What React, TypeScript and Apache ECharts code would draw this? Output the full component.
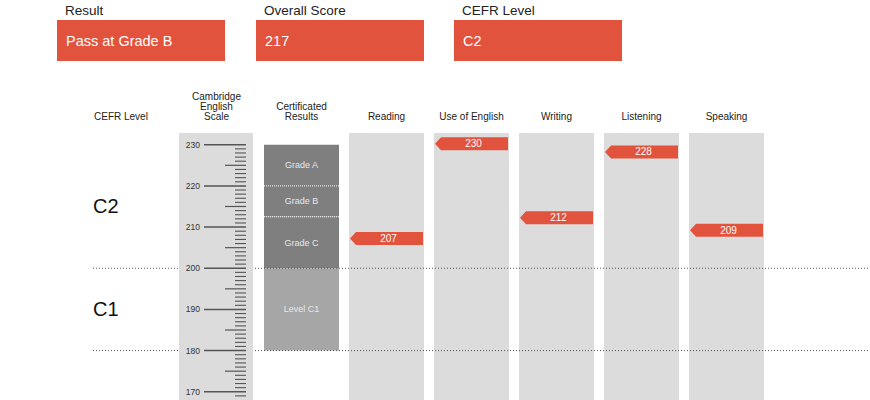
import React, { useEffect, useRef } from "react";
import * as echarts from "echarts";

const columns = ["Cambridge\nEnglish\nScale", "Certificated\nResults", "Reading", "Use of English", "Writing", "Listening", "Speaking"];
const skillColumnIndex = [2, 3, 4, 5, 6];
const skillScores = [207, 230, 212, 228, 209];
const gradeNames = ["Grade A", "Grade B", "Grade C", "Level C1"];
const gradeTops = [230, 220, 212.5, 200];
const gradeBottoms = [220, 212.5, 200, 180];
const gradeShades = ["dark", "dark", "dark", "light"];
const cefrLevels = ["C2", "C1"];
const cefrMidpoints = [215, 190];
const cefrBoundaries = [200, 180];
const scaleLabels = [230, 220, 210, 200, 190, 180, 170];
const summaryTitles = ["Result", "Overall Score", "CEFR Level"];
const summaryValues = ["Pass at Grade B", "217", "C2"];
const axisMin = 168;
const axisMax = 232.85;

const RED = "#e2533d";
const GRAY = "#dcdcdc";
const FONT = "'Liberation Sans', Arial, Helvetica, sans-serif";

export default function App() {
  const ref = useRef<HTMLDivElement>(null);
  useEffect(() => {
    if (!ref.current) return;
    const chart = echarts.init(ref.current, null, { renderer: "svg" });

    const boxX = [57, 256, 454];
    const graphic: any[] = [];
    summaryTitles.forEach((t, i) => {
      graphic.push({
        type: "text",
        style: { x: boxX[i] + 8, y: 10, text: t, fontSize: 13.5, fontFamily: FONT, fill: "#222", verticalAlign: "middle" },
      });
      graphic.push({ type: "rect", shape: { x: boxX[i], y: 20, width: 168, height: 41 }, style: { fill: RED } });
      graphic.push({
        type: "text",
        style: { x: boxX[i] + 9, y: 41, text: summaryValues[i], fontSize: 14.5, fontFamily: FONT, fill: "#fff", verticalAlign: "middle" },
      });
    });
    graphic.push({
      type: "text",
      style: { x: 94, y: 116, text: "CEFR Level", fontSize: 10, fontFamily: FONT, fill: "#222", verticalAlign: "middle" },
    });

    const rulerTicks: number[][] = [];
    for (let v = 169; v <= 230; v++) rulerTicks.push([0, v]);

    const option: any = {
      animation: false,
      textStyle: { fontFamily: FONT },
      grid: { left: 174, width: 595, top: 133, bottom: 0 },
      xAxis: {
        type: "category",
        data: columns,
        position: "top",
        axisLine: { show: false },
        axisTick: { show: false },
        splitLine: { show: false },
        axisLabel: { color: "#222", fontSize: 10, lineHeight: 10, margin: 12, interval: 0, fontFamily: FONT },
      },
      yAxis: { type: "value", min: axisMin, max: axisMax, show: false },
      graphic,
      series: [
        {
          type: "custom",
          z: 1,
          silent: true,
          data: skillColumnIndex.map((c) => [c, axisMax, axisMin]),
          renderItem: (params: any, api: any) => {
            const top = api.coord([api.value(0), api.value(1)]);
            const bot = api.coord([api.value(0), api.value(2)]);
            return { type: "rect", shape: { x: top[0] - 37.5, y: top[1], width: 75, height: bot[1] - top[1] }, style: { fill: GRAY } };
          },
        },
        {
          type: "custom",
          z: 2,
          silent: true,
          data: gradeTops.map((t, i) => [1, t, gradeBottoms[i]]),
          renderItem: (params: any, api: any) => {
            const i = params.dataIndex;
            const top = api.coord([api.value(0), api.value(1)]);
            const bot = api.coord([api.value(0), api.value(2)]);
            const children: any[] = [
              {
                type: "rect",
                shape: { x: top[0] - 37.5, y: top[1], width: 75, height: bot[1] - top[1] },
                style: { fill: gradeShades[i] === "dark" ? "#7f7f7f" : "#a6a6a6" },
              },
              {
                type: "text",
                style: {
                  x: top[0],
                  y: (top[1] + bot[1]) / 2,
                  text: gradeNames[i],
                  fontSize: 9,
                  fontFamily: FONT,
                  fill: "#e8e8e8",
                  align: "center",
                  verticalAlign: "middle",
                },
              },
            ];
            if (i > 0 && gradeShades[i] === "dark") {
              children.push({
                type: "line",
                shape: { x1: top[0] - 37.5, y1: top[1], x2: top[0] + 37.5, y2: top[1] },
                style: { stroke: "#ffffff", lineWidth: 1, lineDash: [1, 1] },
              });
            }
            return { type: "group", children };
          },
        },
        {
          type: "custom",
          z: 3,
          silent: true,
          data: cefrBoundaries.map((b) => [0, b]),
          renderItem: (params: any, api: any) => {
            const p = api.coord([api.value(0), api.value(1)]);
            return {
              type: "line",
              shape: { x1: 93, y1: p[1], x2: api.getWidth(), y2: p[1] },
              style: { stroke: "#555", lineWidth: 1, lineDash: [1, 2] },
            };
          },
        },
        {
          type: "custom",
          z: 4,
          silent: true,
          data: [[0, axisMax, axisMin]],
          renderItem: (params: any, api: any) => {
            const top = api.coord([api.value(0), api.value(1)]);
            const bot = api.coord([api.value(0), api.value(2)]);
            return { type: "rect", shape: { x: top[0] - 37.5, y: top[1], width: 74, height: bot[1] - top[1] }, style: { fill: GRAY } };
          },
        },
        {
          type: "custom",
          z: 5,
          silent: true,
          data: rulerTicks,
          renderItem: (params: any, api: any) => {
            const v = api.value(1);
            const p = api.coord([api.value(0), v]);
            const c = p[0];
            const children: any[] = [];
            if (v % 10 === 0) {
              children.push({
                type: "line",
                shape: { x1: c - 12.5, y1: p[1], x2: c + 29.5, y2: p[1] },
                style: { stroke: "#555", lineWidth: 1.5 },
              });
              if (scaleLabels.indexOf(v) >= 0) {
                children.push({
                  type: "text",
                  style: { x: c - 16.5, y: p[1], text: String(v), fontSize: 8.5, fontFamily: FONT, fill: "#333", align: "right", verticalAlign: "middle" },
                });
              }
            } else if (v % 5 === 0) {
              children.push({
                type: "line",
                shape: { x1: c + 8.5, y1: p[1], x2: c + 29.5, y2: p[1] },
                style: { stroke: "#555", lineWidth: 1.2 },
              });
            } else {
              children.push({
                type: "line",
                shape: { x1: c + 18.5, y1: p[1], x2: c + 29.5, y2: p[1] },
                style: { stroke: "#555", lineWidth: 1.1 },
              });
            }
            return { type: "group", children };
          },
        },
        {
          type: "custom",
          z: 6,
          silent: true,
          data: skillScores.map((s, i) => [skillColumnIndex[i], s]),
          renderItem: (params: any, api: any) => {
            const p = api.coord([api.value(0), api.value(1)]);
            const L = p[0] - 37.5;
            const y = p[1] - 1;
            return {
              type: "group",
              children: [
                {
                  type: "polygon",
                  shape: {
                    points: [
                      [L + 1, y],
                      [L + 7, y - 6.5],
                      [L + 74, y - 6.5],
                      [L + 74, y + 6.5],
                      [L + 7, y + 6.5],
                    ],
                  },
                  style: { fill: RED },
                },
                {
                  type: "text",
                  style: {
                    x: p[0] + 2,
                    y: y,
                    text: String(api.value(1)),
                    fontSize: 10,
                    fontFamily: FONT,
                    fill: "#fff",
                    align: "center",
                    verticalAlign: "middle",
                  },
                },
              ],
            };
          },
        },
        {
          type: "custom",
          z: 6,
          silent: true,
          data: cefrMidpoints.map((m) => [0, m]),
          renderItem: (params: any, api: any) => {
            const p = api.coord([api.value(0), api.value(1)]);
            return {
              type: "text",
              style: {
                x: 93,
                y: p[1],
                text: cefrLevels[params.dataIndex],
                fontSize: 20,
                fontFamily: FONT,
                fill: "#111",
                verticalAlign: "middle",
              },
            };
          },
        },
      ],
    };
    chart.setOption(option);
    return () => chart.dispose();
  }, []);
  return <div ref={ref} style={{ position: "absolute", left: 0, top: 0, width: 870, height: 400 }} />;
}
